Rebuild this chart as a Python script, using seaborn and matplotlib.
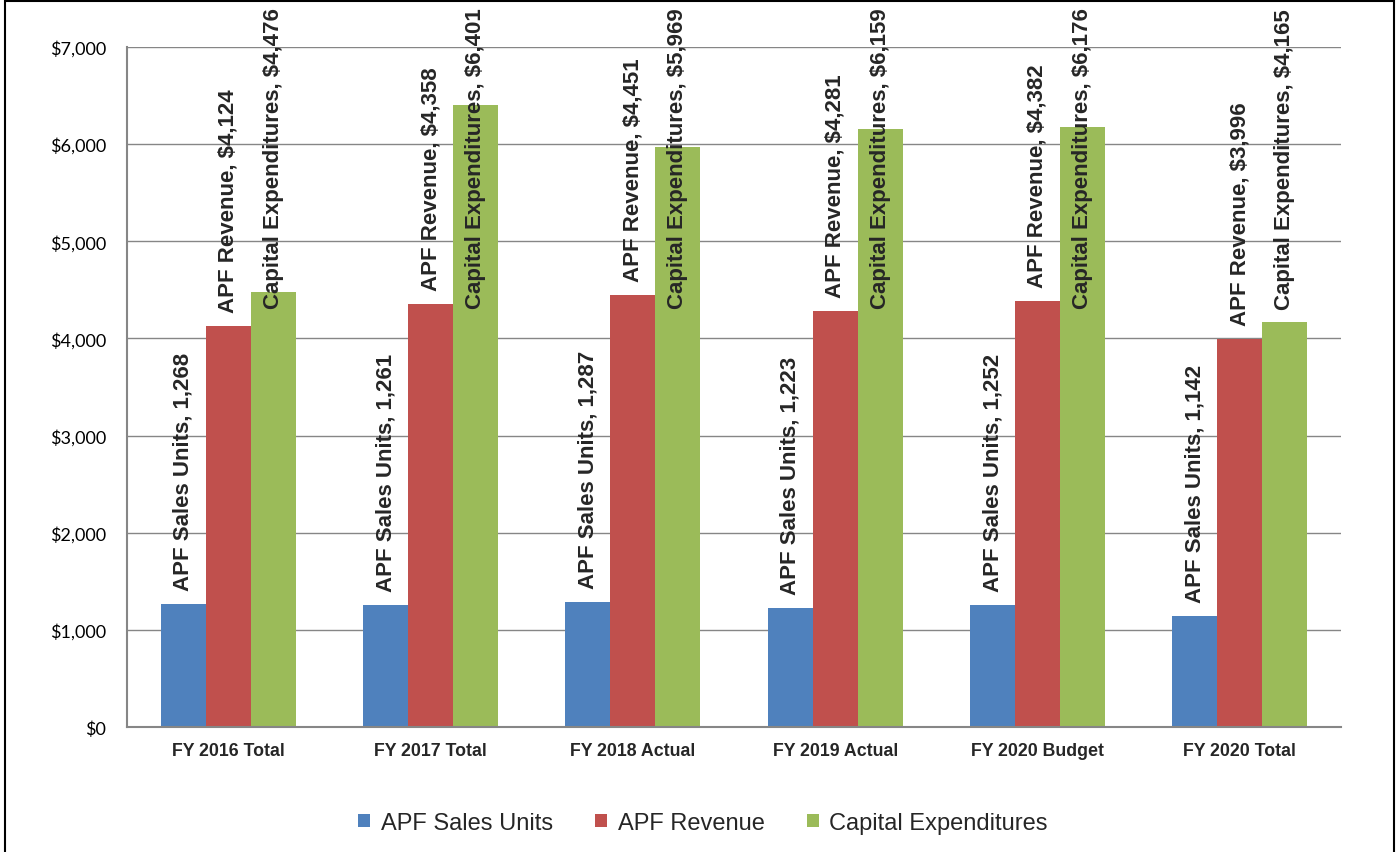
import numpy as np
import pandas as pd
import matplotlib
matplotlib.use('Agg')
import matplotlib.pyplot as plt
import matplotlib.patches as mpatches
from matplotlib.ticker import FuncFormatter
import seaborn as sns

# data
periods = ['FY 2016 Total', 'FY 2017 Total', 'FY 2018 Actual', 'FY 2019 Actual',
           'FY 2020 Budget', 'FY 2020 Total']
series = ['APF Sales Units', 'APF Revenue', 'Capital Expenditures']
sales_units = [1268, 1261, 1287, 1223, 1252, 1142]
revenue = [4124, 4358, 4451, 4281, 4382, 3996]
capex = [4476, 6401, 5969, 6159, 6176, 4165]
colors = ['#4F81BD', '#C0504D', '#9BBB59']

df = pd.DataFrame({
    'period': periods * 3,
    'series': [s for s in series for _ in periods],
    'value': sales_units + revenue + capex,
})

sns.set_style('white')
plt.rcParams['font.family'] = ['Liberation Sans', 'DejaVu Sans']

DPI = 100
W, H = 1400, 853
fig = plt.figure(figsize=(W / DPI, H / DPI), dpi=DPI)
ax = fig.add_axes([127 / W, 1 - 728 / H, (1341 - 127) / W, (728 - 48) / H])

sns.barplot(data=df, x='period', y='value', hue='series', order=periods,
            hue_order=series, palette=colors, width=0.667, gap=0,
            saturation=1, linewidth=0, ax=ax)

grey = '#868686'
ax.set_ylim(0, 7000)
ax.set_xlim(-0.5, 5.5)
ax.set_yticks(np.arange(0, 7001, 1000))
ax.yaxis.set_major_formatter(FuncFormatter(lambda v, p: f'${v:,.0f}'))
ax.grid(axis='y', color=grey, lw=1)
ax.set_axisbelow(True)
ax.set_xlabel('')
ax.set_ylabel('')
for s in ['top', 'right']:
    ax.spines[s].set_visible(False)
for s in ['left', 'bottom']:
    ax.spines[s].set_color(grey)
    ax.spines[s].set_linewidth(1.5)

ax.set_xticks(np.arange(-0.5, 6.0, 1), minor=True)
ax.tick_params(axis='x', which='major', length=0, pad=11)
ax.tick_params(axis='x', which='minor', length=5, color=grey, width=1.5)
ax.tick_params(axis='y', length=5, color=grey, width=1.5, pad=10)
for lbl in ax.get_xticklabels():
    lbl.set_fontweight('bold')
    lbl.set_fontsize(12.8)
for lbl in ax.get_yticklabels():
    lbl.set_family(['Lato', 'DejaVu Sans'])
    lbl.set_fontsize(13)
    lbl.set_color('black')

# data labels
labels = []
for name, cont in zip(series, ax.containers):
    for bar in cont:
        v = bar.get_height()
        txt = f'{name}, {v:,.0f}' if name == 'APF Sales Units' else f'{name}, ${v:,.0f}'
        t = ax.annotate(txt, (bar.get_x() + bar.get_width() / 2, v),
                        xytext=(0, 10), textcoords='offset points',
                        rotation=90, ha='center', va='bottom',
                        fontsize=16, fontweight='bold', annotation_clip=False)
        labels.append(t)

# push labels that run off the top back down, like Excel does
fig.canvas.draw()
r = fig.canvas.get_renderer()
for t in labels:
    bb = t.get_window_extent(r)
    top_lim = H - 8
    if bb.y1 > top_lim:
        shift = (bb.y1 - top_lim) * 72 / DPI
        t.xyann = (0, t.xyann[1] - shift)

handles, names = ax.get_legend_handles_labels()
ax.get_legend().remove()
fig.legend(handles, names, loc='center', bbox_to_anchor=(703 / W, 1 - 824 / H),
           ncol=3, frameon=False, fontsize=17, handlelength=0.5,
           handleheight=0.5, handletextpad=0.45, columnspacing=1.8)

fig.patches.append(mpatches.Rectangle((5 / W, -0.05), (1394 - 5) / W, 1.05 - 1.5 / H,
                                      transform=fig.transFigure, fill=False,
                                      ec='black', lw=1.5))

fig.savefig('out.png', dpi=DPI)
